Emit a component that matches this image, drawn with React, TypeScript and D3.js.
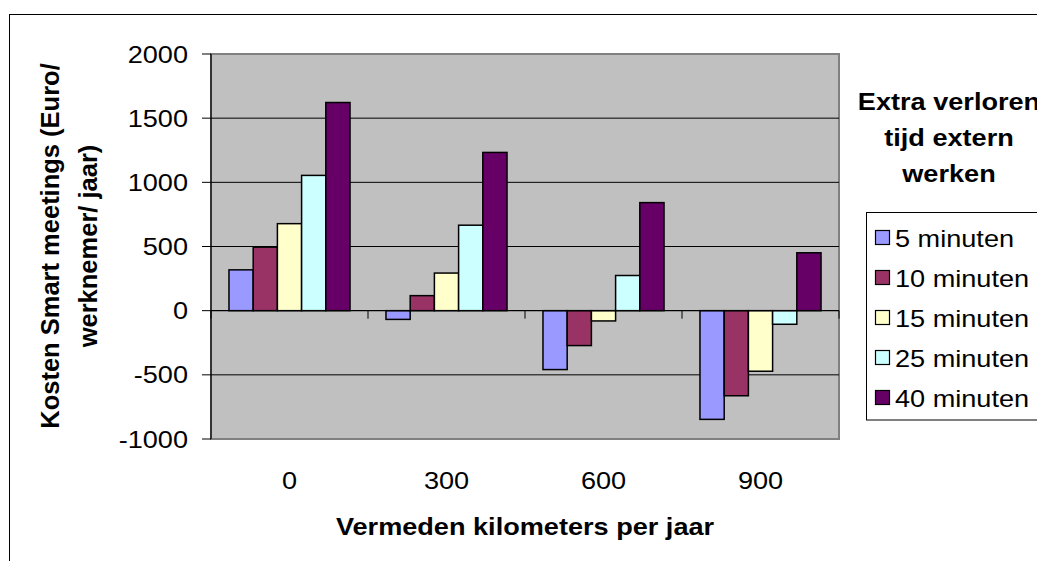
import React from 'react';
import * as d3 from 'd3';

// Vermeden kilometers per jaar
const categories = ['0', '300', '600', '900'];

const seriesNames = ['5 minuten', '10 minuten', '15 minuten', '25 minuten', '40 minuten'];
const seriesColors = ['#9999FF', '#993366', '#FFFFCC', '#CCFFFF', '#660066'];

// Kosten per series, one value per category
const min5 = [318, -68, -459, -847];
const min10 = [495, 117, -272, -663];
const min15 = [678, 293, -80, -472];
const min25 = [1054, 666, 274, -106];
const min40 = [1622, 1233, 842, 451];
const seriesValues = [min5, min10, min15, min25, min40];

const yTicks = [-1000, -500, 0, 500, 1000, 1500, 2000];
const legendTitle = ['Extra verloren', 'tijd extern', 'werken'];

const FONT = '"Liberation Sans", Arial, Helvetica, sans-serif';
const SX = 1.13; // glyphs in the original are a bit wider than Arial

function SText({ x, y, anchor = 'start', size = 24, bold = false, children }: any) {
  return (
    <g transform={`translate(${x},${y}) scale(${SX},1)`}>
      <text
        textAnchor={anchor}
        fontFamily={FONT}
        fontSize={size}
        fontWeight={bold ? 'bold' : 'normal'}
        fill="#000"
      >
        {children}
      </text>
    </g>
  );
}

export default function App() {
  const width = 1037;
  const height = 561;
  const plot = { left: 211, right: 839, top: 54, bottom: 439 };

  const x0 = d3.scaleBand<string>()
    .domain(categories)
    .range([plot.left, plot.right])
    .paddingInner(0.229)
    .paddingOuter(0.1145);

  const x1 = d3.scaleBand<number>()
    .domain(d3.range(seriesNames.length))
    .range([0, x0.bandwidth()]);

  const y = d3.scaleLinear().domain([-1000, 2000]).range([plot.bottom, plot.top]);
  const step = x0.step();

  return (
    <svg
      width={width}
      height={height}
      style={{ position: 'absolute', left: 0, top: 0, background: '#fff' }}
    >
      {/* chart area border */}
      <rect x={9.5} y={14.5} width={1100} height={600} fill="#fff" stroke="#000" strokeWidth={1} />

      {/* plot area */}
      <rect
        x={plot.left}
        y={plot.top}
        width={plot.right - plot.left}
        height={plot.bottom - plot.top}
        fill="#C0C0C0"
        stroke="#808080"
        strokeWidth={2}
      />

      {/* gridlines */}
      {yTicks.filter(t => t !== -1000 && t !== 2000 && t !== 0).map(t => (
        <line key={t} x1={plot.left} x2={plot.right} y1={y(t)} y2={y(t)} stroke="#000" strokeWidth={1} />
      ))}

      {/* bars */}
      {seriesValues.map((vals, si) => (
        <g key={si}>
          {vals.map((v, ci) => {
            const bx = (x0(categories[ci]) as number) + (x1(si) as number);
            const top = y(Math.max(0, v));
            const h = Math.abs(y(v) - y(0));
            return (
              <rect
                key={ci}
                x={bx}
                y={top}
                width={x1.bandwidth()}
                height={h}
                fill={seriesColors[si]}
                stroke="#000"
                strokeWidth={1.5}
              />
            );
          })}
        </g>
      ))}

      {/* x axis at zero */}
      <line x1={plot.left} x2={plot.right} y1={y(0)} y2={y(0)} stroke="#000" strokeWidth={1.2} />
      {d3.range(categories.length + 1).map(i => (
        <line
          key={i}
          x1={plot.left + i * step}
          x2={plot.left + i * step}
          y1={y(0)}
          y2={y(0) + 8}
          stroke="#000"
          strokeWidth={1}
        />
      ))}

      {/* y axis */}
      <line x1={plot.left} x2={plot.left} y1={plot.top} y2={plot.bottom} stroke="#000" strokeWidth={1.2} />
      {yTicks.map(t => (
        <g key={t}>
          <line x1={plot.left - 9} x2={plot.left} y1={y(t)} y2={y(t)} stroke="#000" strokeWidth={1} />
          <SText x={188} y={y(t) + 8.5} anchor="end">{t}</SText>
        </g>
      ))}

      {/* category labels */}
      {categories.map(c => (
        <SText key={c} x={(x0(c) as number) + x0.bandwidth() / 2} y={488.5} anchor="middle">{c}</SText>
      ))}

      {/* axis titles */}
      <SText x={525} y={535} anchor="middle" bold>Vermeden kilometers per jaar</SText>
      <text
        transform={`translate(59,246) rotate(-90)`}
        textAnchor="middle"
        fontFamily={FONT}
        fontSize={25.5}
        fontWeight="bold"
      >
        Kosten Smart meetings (Euro/
      </text>
      <text
        transform={`translate(97,246) rotate(-90)`}
        textAnchor="middle"
        fontFamily={FONT}
        fontSize={25.5}
        fontWeight="bold"
      >
        werknemer/ jaar)
      </text>

      {/* legend title */}
      {legendTitle.map((line, i) => (
        <SText key={line} x={949} y={110 + i * 36} anchor="middle" bold>{line}</SText>
      ))}

      {/* legend */}
      <rect x={866.5} y={212.5} width={200} height={207.5} fill="#fff" stroke="#000" strokeWidth={1} />
      {seriesNames.map((name, i) => {
        const cy = 238 + i * 40;
        return (
          <g key={name}>
            <rect x={875.5} y={cy - 7.5} width={14} height={14} fill={seriesColors[i]} stroke="#000" strokeWidth={1.2} />
            <SText x={895} y={cy + 8.5}>{name}</SText>
          </g>
        );
      })}
    </svg>
  );
}
